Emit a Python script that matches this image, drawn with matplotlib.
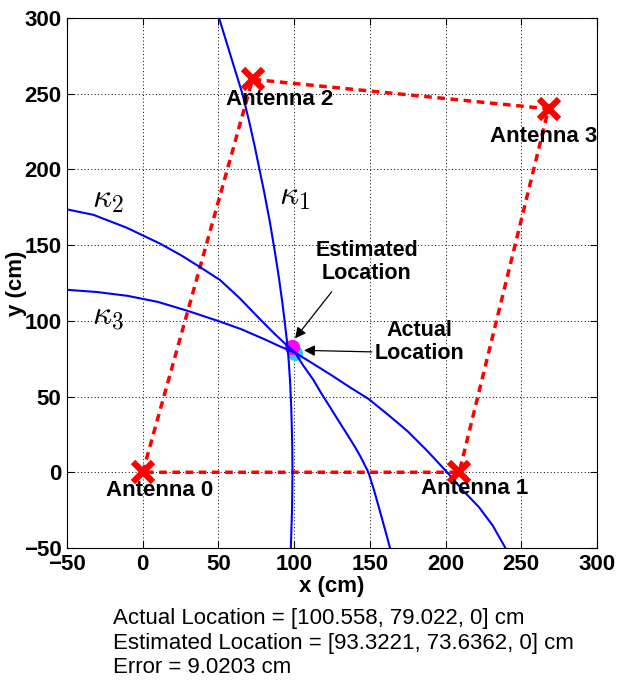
import matplotlib
matplotlib.use('Agg')
import matplotlib.pyplot as plt

plt.rcParams['font.family'] = ['Liberation Sans', 'DejaVu Sans']
plt.rcParams['mathtext.fontset'] = 'cm'

# ---- data ----
antenna_x = [0, 209, 72.5, 268]
antenna_y = [0, 0, 259.5, 240]
antenna_names = ['Antenna 0', 'Antenna 1', 'Antenna 2', 'Antenna 3']
label_x = [11, 219.5, 90.5, 265]
label_y = [-12, -11, 246, 221.5]
outline_order = [0, 2, 3, 1, 0]

k1_x = [50.4, 55, 59.6, 65.8, 70.2, 74, 77.1, 80.2, 84, 87.2, 90, 92.2, 93.8, 95.2, 96.3, 97.3, 98.1, 98.7, 98.9, 98.6, 97.8]
k1_y = [300, 285, 270, 250, 232, 215, 200, 185, 165, 146, 128, 112, 99, 87, 75, 60, 42, 20, 0, -25, -50]

k2_x = [-50, -32.6, -10.6, 11.4, 25, 37.5, 51, 64, 77.5, 87, 95, 100.6, 106, 112.7, 118, 123.7, 129, 134.7, 140, 144, 149, 152.5, 155.6, 159.5, 163.3]
k2_y = [173.6, 170, 161.5, 151, 143.5, 135.7, 127, 115, 101, 91.5, 84, 79, 70.5, 61, 52, 43, 34.5, 25.5, 17, 10, 0, -11, -22, -36, -50]

k3_x = [-50, -30, -10, 10, 30, 51, 65, 80, 92, 100.6, 112, 124, 137, 149, 162, 175, 188, 201, 211, 222, 231, 239.5]
k3_y = [120.5, 119, 116.5, 112.5, 106.5, 99.5, 94.5, 88, 82.5, 79, 72, 64.5, 56, 48.5, 38, 27, 14, 0, -11.5, -23, -35, -50]

actual_loc = (100.558, 79.022)
estimated_marker = (98.5, 83)

kappa_labels = [r'$\kappa_1$', r'$\kappa_2$', r'$\kappa_3$']
kappa_x = [100, -23, -23]
kappa_y = [182, 180, 103]

est_text_pos = (148, 139)
est_arrow_tail = (124.8, 119.2)
est_arrow_head = (100.6, 88.4)
act_text_pos = (182.5, 86)
act_arrow_tail = (151.2, 79.5)
act_arrow_head = (106.5, 80.5)

info_lines = ['Actual Location = [100.558, 79.022, 0] cm',
              'Estimated Location = [93.3221, 73.6362, 0] cm',
              'Error = 9.0203 cm']

ticks = [-50, 0, 50, 100, 150, 200, 250, 300]

# ---- figure ----
fig = plt.figure(figsize=(6.21, 6.86), dpi=100)
ax = fig.add_axes([0.1079, 0.2012, 0.8535, 0.7726])

ax.set_xlim(-50, 300)
ax.set_ylim(-50, 300)
ax.set_xticks(ticks)
ax.set_yticks(ticks)
ax.tick_params(direction='in', top=True, right=True, length=5, width=0.8,
               labelsize=16)
ax.tick_params(axis='x', pad=4)
ax.tick_params(axis='y', pad=4)
for lab in ax.get_xticklabels() + ax.get_yticklabels():
    lab.set_fontweight('bold')
ax.grid(True, color='black', linestyle=(0, (1, 2.5)), linewidth=0.7)
ax.set_axisbelow(True)
for s in ax.spines.values():
    s.set_linewidth(0.8)

# markers under curves
ax.plot([actual_loc[0]], [actual_loc[1]], 'o', color='#33ccee', markersize=10, zorder=2)
ax.plot([estimated_marker[0]], [estimated_marker[1]], 'o', color='#ff00ff', markersize=10, zorder=2.1)

# red outline
ox = [antenna_x[i] for i in outline_order]
oy = [antenna_y[i] for i in outline_order]
ax.plot(ox, oy, color='red', linestyle=(0, (2.2, 1.6)), linewidth=2.5, zorder=2.5)

# hyperbola curves
for cx, cy in [(k1_x, k1_y), (k2_x, k2_y), (k3_x, k3_y)]:
    ax.plot(cx, cy, color='#0000ff', linewidth=1.5, zorder=3)

# antennas
ax.plot(antenna_x, antenna_y, 'x', color='red', markersize=14, mew=4.5, zorder=4)
for name, lx, ly in zip(antenna_names, label_x, label_y):
    ax.text(lx, ly, name, ha='center', va='center', fontsize=16, fontweight='bold', zorder=5)

for t, kx, ky in zip(kappa_labels, kappa_x, kappa_y):
    ax.text(kx, ky, t, ha='center', va='center', fontsize=24, zorder=5)

# annotations
ax.text(est_text_pos[0], est_text_pos[1], 'Estimated\nLocation', ha='center', va='center',
        fontsize=15.5, fontweight='bold', linespacing=1.1, zorder=5)
ax.annotate('', xy=est_arrow_head, xytext=est_arrow_tail,
            arrowprops=dict(arrowstyle='-|>', color='black', lw=0.9, mutation_scale=16,
                            shrinkA=0, shrinkB=0), zorder=5)
ax.text(act_text_pos[0], act_text_pos[1], 'Actual\nLocation', ha='center', va='center',
        fontsize=15.5, fontweight='bold', linespacing=1.1, zorder=5)
ax.annotate('', xy=act_arrow_head, xytext=act_arrow_tail,
            arrowprops=dict(arrowstyle='-|>', color='black', lw=0.9, mutation_scale=16,
                            shrinkA=0, shrinkB=0), zorder=5)

ax.set_xlabel('x (cm)', fontsize=16, fontweight='bold')
ax.set_ylabel('y (cm)', fontsize=16, fontweight='bold')
ax.xaxis.label.set_va('center')
ax.yaxis.label.set_va('center')
ax.xaxis.set_label_coords(0.5, (548 - 587) / 530)
ax.yaxis.set_label_coords((16 - 67) / 530, 0.5)

fig.text(113 / 621, 1 - 643 / 686, '\n'.join(info_lines), ha='left', va='center',
         fontsize=16, linespacing=1.2)

fig.savefig('out.png', dpi=100)
